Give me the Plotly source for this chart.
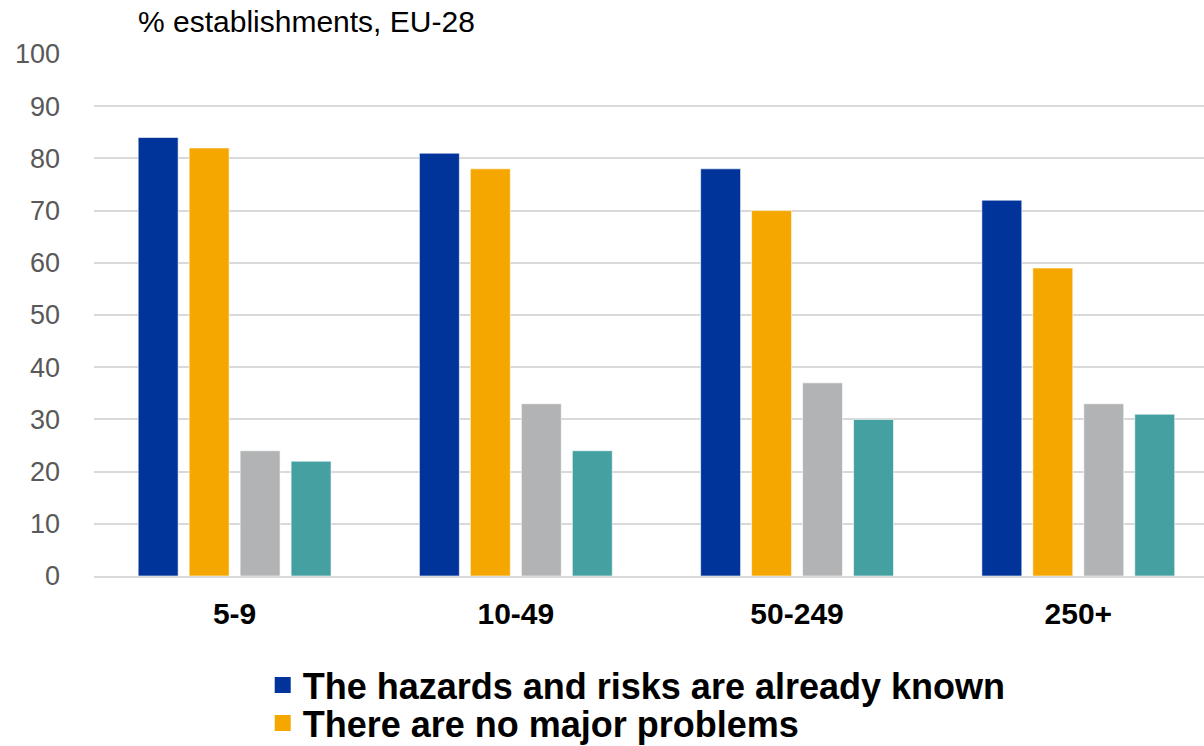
import plotly.graph_objects as go

categories = ["5-9", "10-49", "50-249", "250+"]
series_names = [
    "The hazards and risks are already known",
    "There are no major problems",
    "The procedure is too burdensome",
    "It is not particularly useful",
]
known = [84, 81, 78, 72]
no_problems = [82, 78, 70, 59]
burdensome = [24, 33, 37, 33]
not_useful = [22, 24, 30, 31]
colors = ["#00349A", "#F5A700", "#B2B3B4", "#45A0A2"]
legend_ids = ["legend", "legend2", None, None]
y_ticks = [0, 10, 20, 30, 40, 50, 60, 70, 80, 90, 100]

FONT = "Arial, 'Liberation Sans', sans-serif"

fig = go.Figure()
for name, vals, col in zip(series_names, [known, no_problems, burdensome, not_useful], colors):
    fig.add_trace(go.Bar(
        x=list(range(len(categories))), y=vals, name=name,
        marker=dict(color=col, line=dict(color="rgba(255,255,255,0.6)", width=1)),
        showlegend=False,
    ))

# legend entries (square swatches)
for name, col, lid in zip(series_names, colors, legend_ids):
    if lid is None:
        continue
    fig.add_trace(go.Scatter(
        x=[None], y=[None], mode="markers", name=name, legend=lid,
        marker=dict(symbol="square", size=16, color=col, line=dict(width=0)),
        showlegend=True,
    ))

legend_font = dict(size=36, color="black", family=FONT, weight="bold")
fig.update_layout(
    width=1204, height=746,
    margin=dict(l=94, r=0, t=54, b=170, autoexpand=False),
    paper_bgcolor="white", plot_bgcolor="white",
    barmode="group", bargap=0.275, bargroupgap=0.216,
    font=dict(family=FONT),
    xaxis=dict(
        tickmode="array", tickvals=list(range(len(categories))), ticktext=categories,
        range=[-0.5, 3.447], showgrid=False, zeroline=False,
        showline=True, linecolor="#D9D9D9", linewidth=2,
        tickfont=dict(size=30, color="black", family=FONT, weight="bold"),
        ticks="", ticklabelstandoff=10,
    ),
    yaxis=dict(
        range=[0, 100], tickvals=y_ticks, showgrid=True, gridcolor="#D9D9D9", gridwidth=2,
        zeroline=False, tickfont=dict(size=27, color="#595959", family=FONT),
        ticks="", ticklabelstandoff=33,
    ),
    legend=dict(
        x=0.152, xanchor="left", y=(576 - 685) / 522, yanchor="middle",
        font=legend_font, bgcolor="rgba(0,0,0,0)", itemsizing="trace",
    ),
    legend2=dict(
        x=0.152, xanchor="left", y=(576 - 723) / 522, yanchor="middle",
        font=legend_font, bgcolor="rgba(0,0,0,0)", itemsizing="trace",
    ),
    annotations=[dict(
        text="% establishments, EU-28", xref="paper", yref="paper",
        x=(136 - 94) / 1110, xanchor="left", y=(576 - 22) / 522, yanchor="middle",
        showarrow=False, font=dict(size=30, color="black", family=FONT),
    )],
)

fig.write_html("out.html")
